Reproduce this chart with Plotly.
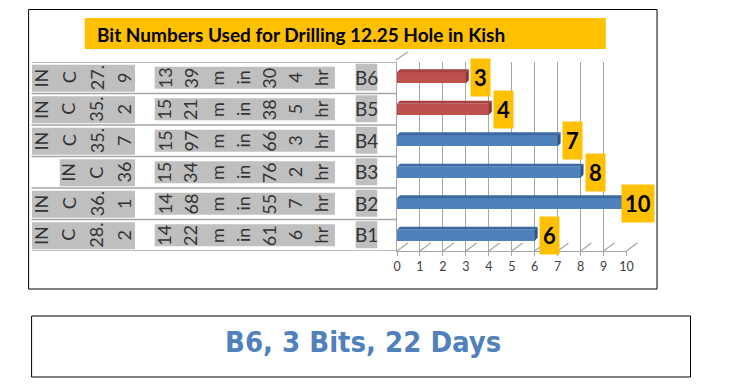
import plotly.graph_objects as go

W, H = 732, 387

# ---------------- data ----------------
bit_names = ["B1", "B2", "B3", "B4", "B5", "B6"]
bits_used = [6, 10, 8, 7, 4, 3]
inc_lines = [["IN", "C", "28.", "2"], ["IN", "C", "36.", "1"], ["IN", "C", "36"],
             ["IN", "C", "35.", "7"], ["IN", "C", "35.", "2"], ["IN", "C", "27.", "9"]]
run_lines = [["14", "22", "m", "in", "61", "6", "hr"], ["14", "68", "m", "in", "55", "7", "hr"],
             ["15", "34", "m", "in", "76", "2", "hr"], ["15", "97", "m", "in", "66", "3", "hr"],
             ["15", "21", "m", "in", "38", "5", "hr"], ["13", "39", "m", "in", "30", "4", "hr"]]
bar_kind = ["blue", "blue", "blue", "blue", "red", "red"]
x_ticks = list(range(0, 11))
title_text = "Bit Numbers Used for Drilling 12.25 Hole in Kish"
summary_text = "B6, 3 Bits, 22 Days"

# ---------------- styles ----------------
FRONT = {"blue": "#4F81BD", "red": "#C0504D"}
TOP = {"blue": "#3D69A3", "red": "#A8423F"}
END = {"blue": "#2F5486", "red": "#8B3431"}
GRID = "#A6A6A6"
TXT = "#333333"
FONT = "Lato"


def px(x):
    return x / W


def py(y):
    return 1 - y / H


# plot geometry (pixels)
FX0, FX1 = 399, 632          # front x axis
FY0, FY1 = 251, 62           # front y (bottom, top)
MID_DX, MID_DY = 4, 2.5      # bars sit mid-depth
BACK_DX, BACK_DY = 11, 8     # back wall offset
ROW_PX = (FY0 - FY1) / 6.0
UNIT_PX = (FX1 - FX0) / 10.0

fig = go.Figure()

idx = list(range(len(bit_names)))

# front faces of the bars
fig.add_trace(go.Bar(
    x=bits_used, y=idx, orientation="h", base=0, width=0.35,
    marker=dict(color=[FRONT[k] for k in bar_kind], line=dict(width=0)),
    xaxis="x2", yaxis="y2", hoverinfo="skip", showlegend=False))

# top and end faces (3D look), computed from the values
dx = 3 / UNIT_PX
dy = 3 / ROW_PX
h = 0.175
for kind in ["blue", "red"]:
    tx, ty, ex, ey = [], [], [], []
    for i, v in enumerate(bits_used):
        if bar_kind[i] != kind:
            continue
        tx += [0, v, v + dx, dx, 0, None]
        ty += [i + h, i + h, i + h + dy, i + h + dy, i + h, None]
        ex += [v, v, v + dx, v + dx, v, None]
        ey += [i - h, i + h, i + h + dy, i - h + dy, i - h, None]
    fig.add_trace(go.Scatter(x=tx, y=ty, fill="toself", mode="lines", line=dict(width=0),
                             fillcolor=TOP[kind], xaxis="x2", yaxis="y2",
                             hoverinfo="skip", showlegend=False))
    fig.add_trace(go.Scatter(x=ex, y=ey, fill="toself", mode="lines", line=dict(width=0),
                             fillcolor=END[kind], xaxis="x2", yaxis="y2",
                             hoverinfo="skip", showlegend=False))

# back wall grid holder
fig.add_trace(go.Scatter(x=[0], y=[0], mode="markers", marker=dict(opacity=0),
                         xaxis="x3", yaxis="y3", hoverinfo="skip", showlegend=False))

shapes = []
annotations = []

# outer frame
shapes.append(dict(type="rect", xref="paper", yref="paper", x0=px(25), x1=px(663),
                   y0=py(289), y1=py(9.5), line=dict(color="#000000", width=1), layer="below"))
# title box
shapes.append(dict(type="rect", xref="paper", yref="paper", x0=px(82), x1=px(611),
                   y0=py(49), y1=py(18), line=dict(width=0), fillcolor="#FFC000", layer="above"))
annotations.append(dict(text="<b>" + title_text + "</b>", xref="paper", yref="paper",
                        x=px(92), y=py(34), xanchor="left", yanchor="middle", showarrow=False,
                        font=dict(family=FONT, size=19, color="#000000")))
# summary box
shapes.append(dict(type="rect", xref="paper", yref="paper", x0=px(28), x1=px(697),
                   y0=py(377), y1=py(316), line=dict(color="#000000", width=1)))
annotations.append(dict(text="<b>" + summary_text + "</b>", xref="paper", yref="paper",
                        x=px(364), y=py(342), xanchor="center", yanchor="middle", showarrow=False,
                        font=dict(family="Liberation Sans Narrow, DejaVu Sans Condensed, Arial Narrow",
                                  size=29, color="#4F81BD")))

# table row lines
for i in range(len(bit_names) + 1):
    shapes.append(dict(type="line", xref="paper", yref="y", x0=px(28), x1=px(398),
                       y0=i - 0.5, y1=i - 0.5, line=dict(color=GRID, width=1.5)))

# floor diagonals
for k in x_ticks:
    xf = FX0 + k * UNIT_PX
    shapes.append(dict(type="line", xref="paper", yref="paper", x0=px(xf), x1=px(xf + BACK_DX),
                       y0=py(FY0), y1=py(FY0 - BACK_DY), line=dict(color=GRID, width=1.3)))
# top edge of the left wall
shapes.append(dict(type="line", xref="paper", yref="paper", x0=px(FX0 - 1), x1=px(FX0 + BACK_DX),
                   y0=py(FY1 - 2), y1=py(FY1 - 2 - BACK_DY), line=dict(color=GRID, width=1.3)))

# table cells
for i in idx:
    # inclination column (right aligned)
    lines = inc_lines[i]
    n = len(lines)
    pitch1 = 28.2
    last = 122
    first = last - (n - 1) * pitch1
    shapes.append(dict(type="rect", xref="paper", yref="y", x0=px(first - 9), x1=px(133),
                       y0=i - 14 / ROW_PX, y1=i + 13 / ROW_PX, line=dict(width=0),
                       fillcolor="#BFBFBF", layer="below"))
    for j, t in enumerate(lines):
        annotations.append(dict(text=t, xref="paper", yref="y", x=px(first + j * pitch1), y=i,
                                textangle=-90, showarrow=False, xanchor="center", yanchor="middle",
                                font=dict(family=FONT, size=18, color=TXT)))
    # run column
    lines = run_lines[i]
    pitch2 = 26.5
    shapes.append(dict(type="rect", xref="paper", yref="y", x0=px(153), x1=px(336),
                       y0=i - 11 / ROW_PX, y1=i + 11 / ROW_PX, line=dict(width=0),
                       fillcolor="#BFBFBF", layer="below"))
    for j, t in enumerate(lines):
        annotations.append(dict(text=t, xref="paper", yref="y", x=px(163 + j * pitch2), y=i,
                                textangle=-90, showarrow=False, xanchor="center", yanchor="middle",
                                font=dict(family=FONT, size=18, color=TXT)))
    # bit name column
    shapes.append(dict(type="rect", xref="paper", yref="y", x0=px(357), x1=px(379),
                       y0=i - 13 / ROW_PX, y1=i + 14 / ROW_PX, line=dict(width=0),
                       fillcolor="#BFBFBF", layer="below"))
    annotations.append(dict(text=bit_names[i], xref="paper", yref="y", x=px(368), y=i + 0.5 / ROW_PX,
                            showarrow=False, xanchor="center", yanchor="middle",
                            font=dict(family=FONT, size=19, color=TXT)))

# data labels
for i, v in enumerate(bits_used):
    txt = str(v)
    est_w = 12.8 * len(txt) + 6
    left = FX0 + MID_DX + v * UNIT_PX + 4
    shift = 4
    if left + est_w > 662:
        shift = 4 - (left + est_w - 662)
    annotations.append(dict(text="<b>" + txt + "</b>", xref="x2", yref="y2", x=v, y=i,
                            xanchor="left", yanchor="middle", xshift=shift, showarrow=False,
                            bgcolor="#FFC000", borderpad=3, height=31,
                            font=dict(family=FONT, size=22, color="#000000")))

fig.update_layout(
    width=W, height=H, margin=dict(l=0, r=0, t=0, b=0),
    paper_bgcolor="#FFFFFF", plot_bgcolor="rgba(0,0,0,0)",
    showlegend=False, bargap=0,
    xaxis=dict(domain=[px(FX0), px(FX1)], range=[0, 10], anchor="y", showgrid=False,
               zeroline=False, showline=True, linecolor=GRID, linewidth=1.3,
               ticks="outside", ticklen=4, tickcolor=GRID, tickwidth=1.3,
               tickvals=x_ticks, tickfont=dict(family=FONT, size=12.5, color="#404040")),
    yaxis=dict(domain=[py(FY0), py(FY1)], range=[-0.5, 5.5], anchor="x", showgrid=False,
               zeroline=False, showline=True, linecolor=GRID, linewidth=1.3,
               showticklabels=False, ticks=""),
    xaxis2=dict(domain=[px(FX0 + MID_DX), px(FX1 + MID_DX)], range=[0, 10], anchor="y2",
                overlaying="x", visible=False),
    yaxis2=dict(domain=[py(FY0 - MID_DY), py(FY1 - MID_DY)], range=[-0.5, 5.5], anchor="x2",
                overlaying="y", visible=False),
    xaxis3=dict(domain=[px(FX0 + BACK_DX), px(FX1 + BACK_DX)], range=[0, 10], anchor="y3",
                overlaying="x", showgrid=True, gridcolor=GRID, gridwidth=1.3, tickvals=x_ticks,
                showticklabels=False, ticks="", zeroline=False, showline=False),
    yaxis3=dict(domain=[py(FY0 - BACK_DY), py(FY1 - 2 - BACK_DY)], range=[-1, 1], anchor="x3",
                overlaying="y", visible=False),
    shapes=shapes, annotations=annotations,
)

fig.write_html("out.html", config={"displayModeBar": False},
               post_script="document.body.style.margin='0';document.body.style.overflow='hidden';")
